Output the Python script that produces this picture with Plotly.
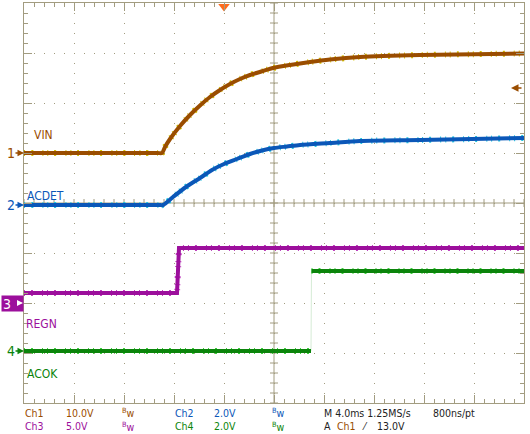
import plotly.graph_objects as go

# ---------------- data (read from the scope screen) ----------------
# time in ms (trigger at 0, 4 ms/div), amplitude in volts
vin_t = [-16, -5.3, -4.96, -4.72, -4.32, -3.52, -2.72, -1.92, -1.12, -0.32, 0.48, 1.28, 2.08, 3.12, 3.92, 5.28, 6.88, 8.48, 10.88, 15.68, 24]
vin_v = [0, 0, 0, 1.2, 2.8, 5.4, 7.6, 9.5, 11.2, 12.6, 13.8, 14.8, 15.6, 16.4, 17.0, 17.6, 18.2, 18.7, 19.2, 19.6, 19.9]

acdet_t = [-16, -5.2, -4.88, -4.08, -3.04, -1.92, -0.96, 0, 1.04, 2.08, 3.04, 4.0, 5.04, 6.08, 8.48, 10.88, 15.68, 24]
acdet_v = [0, 0, 0, 0.32, 0.72, 1.08, 1.40, 1.64, 1.84, 2.04, 2.18, 2.28, 2.34, 2.40, 2.48, 2.56, 2.60, 2.68]

regn_t = [-16, -3.76, -3.6, 24]
regn_v = [1.0, 1.0, 5.5, 5.5]

acok_t = [-16, 6.96, 7.0, 24]
acok_v = [0, 0, 3.2, 3.2]

channel_names = ["VIN", "ACDET", "REGN", "ACOK"]
channel_ids = ["Ch1", "Ch2", "Ch3", "Ch4"]
volts_per_div = [10.0, 2.0, 5.0, 2.0]
ground_div = [1.0, -0.04, -2.0, -2.96]      # ground marker position (divisions from centre)
scale_labels = ["10.0V", "2.0V", "5.0V", "2.0V"]
ms_per_div = 4.0
time_range = [-16, 24]
trigger_level = 13.0
timebase_text = "M 4.0ms 1.25MS/s"
record_text = "800ns/pt"
trigger_text = "13.0V"

# ---------------- styling ----------------
colors = ["#9a4d00", "#0b57b8", "#9c0f9c", "#0b840b"]
speckle = ["#d6c400", "#22c8e0", "#c040c0", "#3cd23c"]
grid_col = "#a29c80"
FONT = "Liberation Sans Narrow, DejaVu Sans Condensed, Arial Narrow, Liberation Sans, sans-serif"

W, H = 530, 434
L, R, T, B = 24, 6, 3, 31
PW, PH = W - L - R, H - T - B


def px(x):
    return (x - L) / PW


def py(y):
    return (H - B - y) / PH


def split_fast_edges(t, v):
    tt, vv = [], []
    for k in range(len(t)):
        if k > 0 and abs(v[k] - v[k - 1]) > 0.5 and (t[k] - t[k - 1]) < 0.2:
            tt.append(None)
            vv.append(None)
        tt.append(t[k])
        vv.append(v[k])
    return tt, vv


fig = go.Figure()

series = [(vin_t, vin_v), (acdet_t, acdet_v), (regn_t, regn_v), (acok_t, acok_v)]
for i, (t, v) in enumerate(series):
    yref = "y%d" % (i + 2)
    shape = "spline" if i < 2 else "linear"
    if i == 3:
        fig.add_trace(go.Scatter(x=t, y=v, yaxis=yref, mode="lines",
                                 line=dict(color="#d6ecd6", width=1),
                                 hoverinfo="skip", showlegend=False))
        t, v = split_fast_edges(t, v)
    fig.add_trace(go.Scatter(x=t, y=v, yaxis=yref, mode="lines",
                             line=dict(color=speckle[i], width=6, dash="1px,6px,2px,9px,1px,4px",
                                       shape=shape, smoothing=0.7),
                             hoverinfo="skip", showlegend=False, connectgaps=False))
    fig.add_trace(go.Scatter(x=t, y=v, yaxis=yref, mode="lines",
                             line=dict(color=colors[i], width=4, shape=shape, smoothing=0.7),
                             name=channel_names[i], showlegend=False, connectgaps=False))

# trigger position marker (top)
fig.add_trace(go.Scatter(x=[0], y=[3.93], yaxis="y", mode="markers",
                         marker=dict(symbol="triangle-down", size=10, color="#ff6a1c"),
                         cliponaxis=False, hoverinfo="skip", showlegend=False))

axis_common = dict(showgrid=True, gridcolor=grid_col, gridwidth=1, griddash="1px,9px",
                   zeroline=False, showline=True, linecolor=grid_col, linewidth=1,
                   mirror="ticks", ticks="inside", ticklen=8, tickcolor=grid_col,
                   showticklabels=False, fixedrange=True)

layout = dict(
    width=W, height=H, margin=dict(l=L, r=R, t=T, b=B, autoexpand=False),
    paper_bgcolor="white", plot_bgcolor="white",
    xaxis=dict(range=time_range, dtick=ms_per_div, tick0=0,
               minor=dict(dtick=ms_per_div / 5, tick0=0, ticks="inside", ticklen=4, tickcolor=grid_col, showgrid=False),
               **axis_common),
    yaxis=dict(range=[-4, 4], dtick=1, tick0=0,
               minor=dict(dtick=0.2, tick0=0, ticks="inside", ticklen=4, tickcolor=grid_col, showgrid=False),
               **axis_common),
    font=dict(family=FONT, size=11),
)
for i in range(4):
    s = volts_per_div[i]
    g = ground_div[i]
    layout["yaxis%d" % (i + 2)] = dict(range=[(-4 - g) * s, (4 - g) * s], overlaying="y",
                                       visible=False, fixedrange=True)
fig.update_layout(**layout)

# centre cross with minor ticks
center_t = time_range[0] + 5 * ms_per_div
shapes = [
    dict(type="line", xref="x", yref="y", x0=center_t, x1=center_t, y0=-4, y1=4,
         line=dict(color=grid_col, width=1), layer="below"),
    dict(type="line", xref="x", yref="y", x0=time_range[0], x1=time_range[1], y0=0, y1=0,
         line=dict(color=grid_col, width=1), layer="below"),
]
for k in range(-20, 21):
    shapes.append(dict(type="line", xref="x", yref="y", xsizemode="pixel", xanchor=center_t,
                       x0=-4, x1=4, y0=k * 0.2, y1=k * 0.2,
                       line=dict(color=grid_col, width=1), layer="below"))
for k in range(0, 51):
    tk = time_range[0] + k * ms_per_div / 5
    shapes.append(dict(type="line", xref="x", yref="y", ysizemode="pixel", yanchor=0,
                       y0=-4, y1=4, x0=tk, x1=tk,
                       line=dict(color=grid_col, width=1), layer="below"))
fig.update_layout(shapes=shapes)

ann = []

# ground markers
for i in [0, 1, 3]:
    ann.append(dict(xref="paper", yref="y", x=0, y=ground_div[i], text=str(i + 1),
                    showarrow=True, ax=-13, ay=0, arrowhead=2, arrowsize=1, arrowwidth=1.3,
                    arrowcolor=colors[i], font=dict(color=colors[i], size=14, family=FONT),
                    standoff=0, borderpad=0))
ann.append(dict(xref="paper", yref="y", x=0, y=ground_div[2], text="3  ", xanchor="right",
                showarrow=False, bgcolor=colors[2], width=19, height=13, align="left",
                font=dict(color="white", size=14, family=FONT), borderpad=1))
ann.append(dict(xref="paper", yref="y", x=-0.002, y=ground_div[2], text="", showarrow=True,
                ax=-7, ay=0, arrowhead=2, arrowsize=1, arrowwidth=1.2, arrowcolor="white", standoff=0))

# trigger level arrow on the right
ann.append(dict(xref="x", yref="y2", x=time_range[1] - 0.08 * 13, y=trigger_level, text="",
                showarrow=True, ax=12, ay=0, arrowhead=2, arrowsize=1, arrowwidth=1.5,
                arrowcolor=colors[0], standoff=0))


def txt(s, x, y, color, size=12):
    ann.append(dict(xref="paper", yref="paper", x=px(x), y=py(y), text=s, showarrow=False,
                    xanchor="left", yanchor="middle", font=dict(color=color, size=size, family=FONT),
                    borderpad=0))


# channel labels
txt(channel_names[0], 33, 134.5, colors[0])
txt(channel_names[1], 26, 196, colors[1])
txt(channel_names[2], 25, 324, colors[2])
txt(channel_names[3], 26, 374, colors[3])

# bottom status lines
bw = "<sup>B</sup>w"
r1, r2 = 413, 426
FS = 10.5
txt(channel_ids[0], 24, r1, colors[0], FS)
txt(scale_labels[0], 65, r1, colors[0], FS)
txt(bw, 121, r1, colors[0], FS)
txt(channel_ids[1], 174, r1, colors[1], FS)
txt(scale_labels[1], 213, r1, colors[1], FS)
txt(bw, 271, r1, colors[1], FS)
txt(timebase_text, 323, r1, "#222222", FS)
txt(record_text, 432, r1, "#222222", FS)

txt(channel_ids[2], 24, r2, colors[2], FS)
txt(scale_labels[2], 65, r2, colors[2], FS)
txt(bw, 121, r2, colors[2], FS)
txt(channel_ids[3], 174, r2, colors[3], FS)
txt(scale_labels[3], 213, r2, colors[3], FS)
txt(bw, 271, r2, colors[3], FS)
txt("A", 323, r2, "#222222", FS)
txt(channel_ids[0], 336, r2, colors[0], FS)
txt("\u2044", 361, r2, "#222222", FS)
txt(trigger_text, 376, r2, "#222222", FS)

fig.update_layout(annotations=ann)
fig.write_html("out.html", config={"displayModeBar": False},
               post_script="document.body.style.margin='0px';document.body.style.overflow='hidden';")
